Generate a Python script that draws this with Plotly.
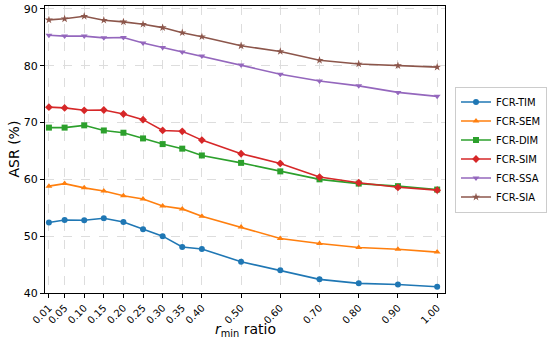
import plotly.graph_objects as go

x_vals = [0.01, 0.05, 0.10, 0.15, 0.20, 0.25, 0.30, 0.35, 0.40, 0.50, 0.60, 0.70, 0.80, 0.90, 1.00]
x_labels = ["0.01", "0.05", "0.10", "0.15", "0.20", "0.25", "0.30", "0.35", "0.40", "0.50", "0.60", "0.70", "0.80", "0.90", "1.00"]

fcr_tim = [52.4, 52.85, 52.8, 53.15, 52.5, 51.2, 50.0, 48.1, 47.75, 45.5, 44.0, 42.4, 41.7, 41.5, 41.1]
fcr_sem = [58.8, 59.25, 58.5, 57.95, 57.1, 56.55, 55.3, 54.8, 53.5, 51.6, 49.6, 48.7, 48.0, 47.7, 47.2]
fcr_dim = [69.1, 69.1, 69.5, 68.6, 68.2, 67.2, 66.2, 65.4, 64.2, 62.9, 61.4, 60.0, 59.25, 58.8, 58.2]
fcr_sim = [72.7, 72.57, 72.15, 72.2, 71.5, 70.5, 68.6, 68.45, 66.9, 64.5, 62.8, 60.4, 59.4, 58.6, 58.1]
fcr_ssa = [85.35, 85.2, 85.2, 84.9, 84.95, 84.0, 83.2, 82.4, 81.7, 80.1, 78.5, 77.3, 76.45, 75.3, 74.6]
fcr_sia = [88.05, 88.25, 88.7, 88.0, 87.7, 87.3, 86.7, 85.8, 85.1, 83.5, 82.5, 80.95, 80.3, 80.0, 79.75]

series = [
    ("FCR-TIM", fcr_tim, "#1f77b4", "circle"),
    ("FCR-SEM", fcr_sem, "#ff7f0e", "triangle-up"),
    ("FCR-DIM", fcr_dim, "#2ca02c", "square"),
    ("FCR-SIM", fcr_sim, "#d62728", "diamond"),
    ("FCR-SSA", fcr_ssa, "#9467bd", "triangle-down"),
    ("FCR-SIA", fcr_sia, "#8c564b", "star"),
]

fig = go.Figure()
for name, ys, color, sym in series:
    fig.add_trace(go.Scatter(
        x=x_vals, y=ys, name=name, mode="lines+markers",
        line=dict(color=color, width=1.6),
        marker=dict(symbol=sym, size=6, color=color),
    ))

font_family = "DejaVu Sans"
fig.update_layout(
    width=550, height=348,
    margin=dict(l=45, r=105, t=6, b=55, autoexpand=False),
    paper_bgcolor="white", plot_bgcolor="white",
    font=dict(family=font_family, color="black"),
    showlegend=True,
    legend=dict(
        x=1.025, y=0.5, xanchor="left", yanchor="middle",
        bordercolor="#cccccc", borderwidth=1,
        font=dict(size=10, family=font_family),
        tracegroupgap=0, itemwidth=30,
    ),
    annotations=[
        dict(text="<i>r</i><sub>min</sub> ratio", xref="paper", yref="paper",
             x=0.5, y=0, yshift=-37, xanchor="center", yanchor="middle",
             showarrow=False, font=dict(size=14)),
        dict(text="ASR (%)", xref="paper", yref="paper",
             x=0, y=0.5, xshift=-32, xanchor="center", yanchor="middle",
             textangle=-90, showarrow=False, font=dict(size=14)),
    ],
)
fig.update_xaxes(
    range=[0.0, 1.02], automargin=False,
    tickmode="array", tickvals=x_vals, ticktext=x_labels,
    tickangle=-45, tickfont=dict(size=10),
    ticks="outside", ticklen=4, tickcolor="black",
    showline=True, linecolor="black", linewidth=1.2, mirror=True,
    showgrid=True, gridcolor="#dddddd", griddash="dash", gridwidth=0.8,
    zeroline=False,
)
fig.update_yaxes(
    range=[40, 90.5], automargin=False,
    tickvals=[40, 50, 60, 70, 80, 90],
    tickfont=dict(size=11),
    ticks="outside", ticklen=4, tickcolor="black",
    showline=True, linecolor="black", linewidth=1.2, mirror=True,
    showgrid=True, gridcolor="#dddddd", griddash="dash", gridwidth=0.8,
    zeroline=False,
)

fig.write_html(
    "out.html",
    config={"displayModeBar": False},
    post_script="document.body.style.margin='0';document.body.style.padding='0';",
)
